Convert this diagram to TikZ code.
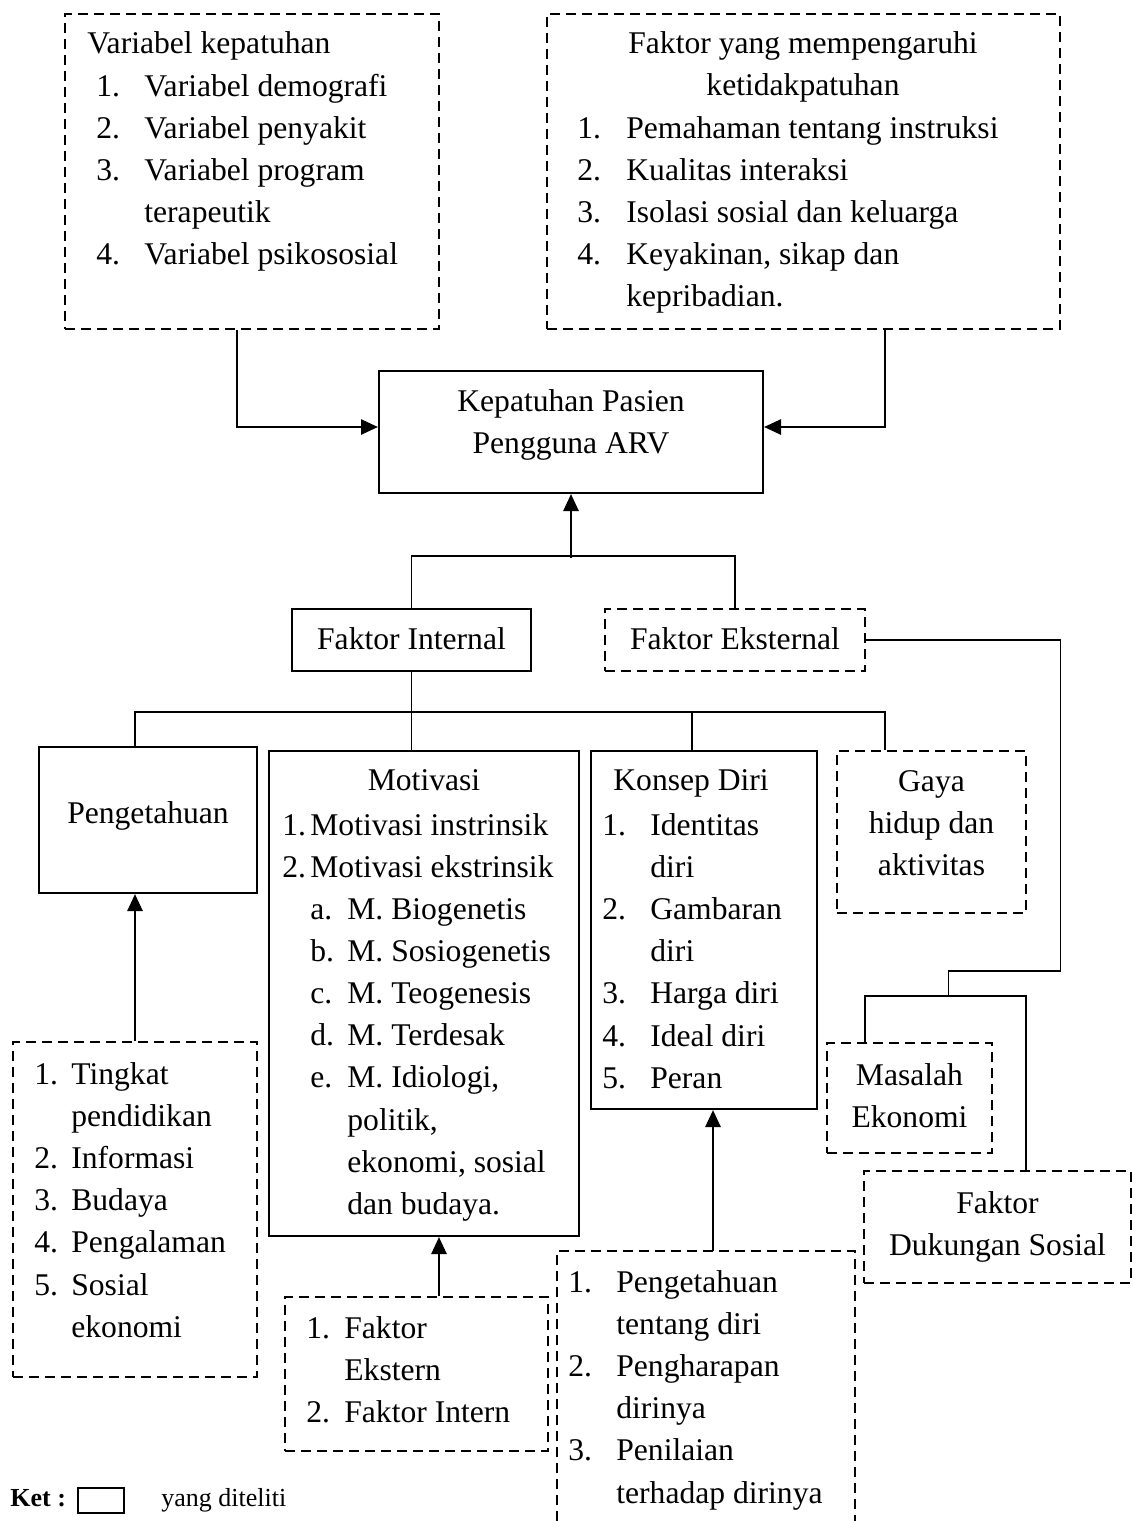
\documentclass[tikz,border=0pt]{standalone}
\usepackage{fontspec}
\setmainfont{Liberation Serif}
\usetikzlibrary{fit,arrows.meta}
\newcommand\dgsize{\fontsize{15.8}{21.1}\selectfont}
\newcommand\dgsmall{\fontsize{13}{15}\selectfont}
\begin{document}
\begin{tikzpicture}[x=0.5pt,y=-0.5pt,
  sbox/.style={draw, line width=1pt, inner sep=0pt},
  dbox/.style={draw, line width=1.3pt, dash pattern=on 5pt off 3pt, inner sep=0pt},
  conn/.style={line width=0.8pt},
  arr/.style={line width=1.3pt, -{Triangle[length=8.5pt,width=7.5pt]}},
  txt/.style={inner sep=0pt, font=\dgsize},
]
\useasboundingbox (0,0) rectangle (1133,1521);

% ---------- boxes ----------
\node[dbox, fit={(65,14) (439,329)}] (B1) {};
\node[dbox, fit={(547,14) (1060,329)}] (B2) {};
\node[sbox, fit={(379,371) (763,493)}] (KP) {};
\node[sbox, fit={(292,609) (531,671)}] (FI) {};
\node[dbox, fit={(605,609) (865,671)}] (FE) {};
\node[sbox, fit={(39,747) (257,893)}] (PG) {};
\node[sbox, fit={(269,751) (579,1236)}] (MO) {};
\node[sbox, fit={(591,751) (817,1109)}] (KD) {};
\node[dbox, fit={(837,751) (1026,913)}] (GH) {};
\node[dbox, fit={(13,1042) (257,1377)}] (PL) {};
\node[dbox, fit={(827,1043) (992,1153)}] (ME) {};
\node[dbox, fit={(864,1171) (1131,1283)}] (FD) {};
\node[dbox, fit={(285,1297) (548,1451)}] (FX) {};
\draw[line width=1.3pt, dash pattern=on 5pt off 3pt] (557,1521) -- (557,1251) -- (855,1251) -- (855,1521);
\coordinate (kltop) at (713,1251);

% ---------- texts ----------
\node[txt, anchor=base west] (tB1h) at (87,53) {Variabel kepatuhan};
\node[txt, anchor=base west] (tB1l) at (96,96) {\begin{tabular}[t]{@{}p{24pt}@{}l@{}}
1. & Variabel demografi\\
2. & Variabel penyakit\\
3. & Variabel program\\
   & terapeutik\\
4. & Variabel psikososial\end{tabular}};

\node[txt, anchor=base] (tB2h) at (803,53) {\begin{tabular}[t]{@{}c@{}}Faktor yang mempengaruhi\\ ketidakpatuhan\end{tabular}};
\node[txt, anchor=base west] (tB2l) at (577,138) {\begin{tabular}[t]{@{}p{24.5pt}@{}l@{}}
1. & Pemahaman tentang instruksi\\
2. & Kualitas interaksi\\
3. & Isolasi sosial dan keluarga\\
4. & Keyakinan, sikap dan\\
   & kepribadian.\end{tabular}};

\node[txt, anchor=base] (tKP) at (571,411) {\begin{tabular}[t]{@{}c@{}}Kepatuhan Pasien\\ Pengguna ARV\end{tabular}};
\node[txt, anchor=base] (tFI) at (411.5,649) {Faktor Internal};
\node[txt, anchor=base] (tFE) at (735,649) {Faktor Eksternal};
\node[txt, anchor=base] (tPG) at (148,823) {Pengetahuan};

\node[txt, anchor=base] (tMOh) at (424,790) {Motivasi};
\node[txt, anchor=base west] (tMO1) at (282,835) {\begin{tabular}[t]{@{}p{14pt}@{}l@{}}
1. & Motivasi instrinsik\\
2. & Motivasi ekstrinsik\end{tabular}};
\node[txt, anchor=base west] (tMO2) at (310,919) {\begin{tabular}[t]{@{}p{18.5pt}@{}l@{}}
a. & M. Biogenetis\\
b. & M. Sosiogenetis\\
c. & M. Teogenesis\\
d. & M. Terdesak\\
e. & M. Idiologi,\\
   & politik,\\
   & ekonomi, sosial\\
   & dan budaya.\end{tabular}};

\node[txt, anchor=base west] (tKDh) at (613,790) {Konsep Diri};
\node[txt, anchor=base west] (tKDl) at (602,835) {\begin{tabular}[t]{@{}p{24pt}@{}l@{}}
1. & Identitas\\
   & diri\\
2. & Gambaran\\
   & diri\\
3. & Harga diri\\
4. & Ideal diri\\
5. & Peran\end{tabular}};

\node[txt, anchor=base] (tGH) at (931.5,791) {\begin{tabular}[t]{@{}c@{}}Gaya\\ hidup dan\\ aktivitas\end{tabular}};

\node[txt, anchor=base west] (tPL) at (34,1084) {\begin{tabular}[t]{@{}p{18.5pt}@{}l@{}}
1. & Tingkat\\
   & pendidikan\\
2. & Informasi\\
3. & Budaya\\
4. & Pengalaman\\
5. & Sosial\\
   & ekonomi\end{tabular}};

\node[txt, anchor=base] (tME) at (909.5,1085) {\begin{tabular}[t]{@{}c@{}}Masalah\\ Ekonomi\end{tabular}};
\node[txt, anchor=base] (tFD) at (997.5,1213) {\begin{tabular}[t]{@{}c@{}}Faktor\\ Dukungan Sosial\end{tabular}};

\node[txt, anchor=base west] (tFX) at (306,1338) {\begin{tabular}[t]{@{}p{19pt}@{}l@{}}
1. & Faktor\\
   & Ekstern\\
2. & Faktor Intern\end{tabular}};

\node[txt, anchor=base west] (tKL) at (568,1292) {\begin{tabular}[t]{@{}p{24pt}@{}l@{}}
1. & Pengetahuan\\
   & tentang diri\\
2. & Pengharapan\\
   & dirinya\\
3. & Penilaian\\
   & terhadap dirinya\end{tabular}};

% legend
\node[inner sep=0pt, anchor=base west, font=\dgsmall\bfseries] (ket) at (10,1506) {Ket :};
\node[draw, line width=0.8pt, inner sep=0pt, fit={(78,1488) (124,1513)}] (lgbox) {};
\node[inner sep=0pt, anchor=base west, font=\dgsmall] (lgtxt) at (161,1506) {yang diteliti};

% ---------- connectors ----------
\draw[arr] ([xshift=-7.5pt]B1.south) |- ([yshift=2.5pt]KP.west);
\draw[arr] ([xshift=40.75pt]B2.south) |- ([yshift=2.5pt]KP.east);
\draw[arr] ([yshift=-32pt]KP.south) -- (KP.south);
\draw[conn] (FI.north) -- ++(0,-52) -| (FE.north);

\coordinate (hub) at ([yshift=-20pt]FI.south);
\draw[conn] (FI.south) -- (FI.south |- MO.north);
\coordinate (pgtop) at ([xshift=-6.5pt]PG.north);
\coordinate (kdtop) at ([xshift=-6pt]KD.north);
\coordinate (ghtop) at ([xshift=-23.25pt]GH.north);
\draw[conn] (pgtop) |- (hub) -| (ghtop);
\draw[conn] (kdtop) -- (kdtop |- hub);

\draw[conn] (FE.east) -- ++(194,0) -- ++(0,331) -- ++(-112,0) -- ++(0,26);
\coordinate (mtop) at ([xshift=-22.25pt]ME.north);
\coordinate (ftop) at ([xshift=14.25pt]FD.north);
\draw[conn] (mtop) -- ++(0,-46) -| (ftop);

\draw[arr] (PL.north) -- (PG.south -| PL.north);
\coordinate (fxtop) at ([xshift=11.25pt]FX.north);
\draw[arr] (fxtop) -- (fxtop |- MO.south);
\draw[arr] (kltop) -- (kltop |- KD.south);
\end{tikzpicture}
\end{document}
